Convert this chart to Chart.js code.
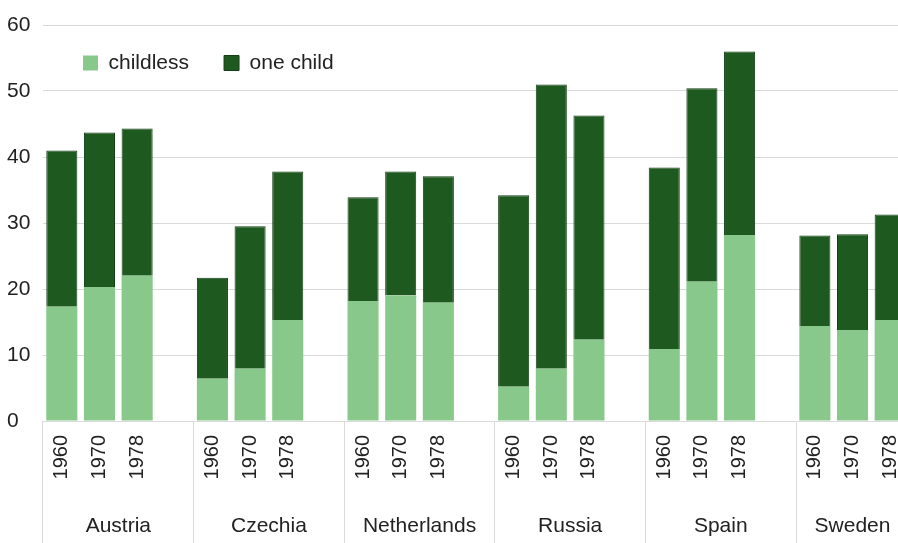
<!DOCTYPE html>
<html>
<head>
<meta charset="utf-8">
<script src="https://cdn.jsdelivr.net/npm/chart.js@4.4.1/dist/chart.umd.min.js"></script>
<style>
  html, body { margin: 0; padding: 0; background: #ffffff; overflow: hidden; }
  #wrap { position: relative; width: 912px; height: 543px; }
</style>
</head>
<body>
<div id="wrap"><canvas id="chart"></canvas></div>
<script>
// Share of women (%) who stayed childless or had one child, by birth cohort
const countries = ['Austria', 'Czechia', 'Netherlands', 'Russia', 'Spain', 'Sweden'];
const years = ['1960', '1970', '1978'];
// values listed country by country, in the order of `years`
const childless = [17.3, 20.3, 22.0,   6.4,  7.9, 15.3,  18.2, 19.0, 17.9,   5.2,  7.9, 12.3,  10.9, 21.1, 28.2,  14.4, 13.8, 15.3];
const oneChild  = [23.7, 23.4, 22.3,  15.3, 21.6, 22.5,  15.7, 18.8, 19.2,  29.0, 43.1, 34.0,  27.5, 29.3, 27.8,  13.7, 14.5, 16.0];
const yTicks = [0, 10, 20, 30, 40, 50, 60];

const LIGHT = '#88c98b';
const DARK = '#1e5a1f';
const DARK_EDGE = '#153f17';
const GRID = '#dadada';
const TEXT = '#222222';
const FONT = "'Liberation Sans', Arial, Helvetica, sans-serif";

// One slot per cohort, with an empty slot between countries
const slotLabels = [];
const childlessSlots = [];
const oneChildSlots = [];
const groupStarts = [];
countries.forEach((c, gi) => {
  groupStarts.push(slotLabels.length);
  years.forEach((y, yi) => {
    slotLabels.push(y);
    childlessSlots.push(childless[gi * years.length + yi]);
    oneChildSlots.push(oneChild[gi * years.length + yi]);
  });
  if (gi < countries.length - 1) {
    slotLabels.push('');
    childlessSlots.push(null);
    oneChildSlots.push(null);
  }
});
const groupCenters = groupStarts.map((s, i) => {
  const end = i < groupStarts.length - 1 ? groupStarts[i + 1] : slotLabels.length;
  return ((s - 0.5) + (end - 0.5)) / 2;
});
const sepColor = (ctx) => groupStarts.includes(ctx.index) ? GRID : 'rgba(0,0,0,0)';

// Lays the legend out as a single row inside the plot, in its upper-left corner
const legendInPlot = {
  id: 'legendInPlot',
  afterInit(chart) {
    if (chart.legend) chart.legend.isHorizontal = () => true;
  },
  afterLayout(chart) {
    const lg = chart.legend;
    if (lg) {
      const area = chart.chartArea;
      lg.left = area.left + 5;
      lg.right = lg.left + lg.width;
      lg.top = area.top - 7.5;
      lg.bottom = lg.top + lg.height;
    }
  }
};

new Chart(document.getElementById('chart'), {
  type: 'bar',
  data: {
    labels: slotLabels,
    datasets: [
      {
        label: 'childless',
        data: childlessSlots,
        backgroundColor: LIGHT,
        borderWidth: 0,
        barPercentage: 0.825,
        categoryPercentage: 1
      },
      {
        label: 'one child',
        data: oneChildSlots,
        backgroundColor: DARK,
        borderColor: DARK_EDGE,
        borderWidth: 1,
        barPercentage: 0.825,
        categoryPercentage: 1
      }
    ]
  },
  options: {
    responsive: true,
    maintainAspectRatio: false,
    animation: false,
    events: [],
    layout: { padding: { left: 7, top: 25, right: 3, bottom: 0 } },
    plugins: {
      tooltip: { enabled: false },
      legend: {
        position: 'chartArea',
        align: 'start',
        labels: {
          boxWidth: 15,
          boxHeight: 15,
          padding: 35,
          color: TEXT,
          font: { family: FONT, size: 21 }
        }
      }
    },
    scales: {
      x: {
        stacked: true,
        position: 'bottom',
        weight: 0,
        offset: true,
        border: { display: false },
        grid: {
          display: true,
          offset: true,
          drawOnChartArea: false,
          drawTicks: true,
          tickLength: 122,
          color: sepColor,
          tickColor: sepColor,
          lineWidth: 1,
          tickWidth: 1
        },
        ticks: {
          autoSkip: false,
          minRotation: 90,
          maxRotation: 90,
          padding: -108,
          color: TEXT,
          font: { family: FONT, size: 20 }
        },
        afterFit(scale) { scale.height = 66; }
      },
      x2: {
        type: 'linear',
        position: 'bottom',
        weight: 1,
        offset: false,
        min: -0.5,
        max: slotLabels.length - 0.5,
        border: { display: false },
        grid: { display: false, offset: false },
        afterBuildTicks(scale) {
          scale.ticks = groupCenters.map(v => ({ value: v }));
        },
        ticks: {
          autoSkip: false,
          maxRotation: 0,
          padding: 19,
          color: TEXT,
          font: { family: FONT, size: 21 },
          callback: (value, index) => countries[index]
        },
        afterFit(scale) { scale.height = 56; }
      },
      y: {
        stacked: true,
        min: yTicks[0],
        max: yTicks[yTicks.length - 1],
        border: { display: false },
        grid: { color: GRID, lineWidth: 1, drawTicks: false },
        afterBuildTicks(scale) {
          scale.ticks = yTicks.map(v => ({ value: v }));
        },
        ticks: {
          crossAlign: 'far',
          padding: 12,
          color: TEXT,
          font: { family: FONT, size: 21 }
        },
        afterFit(scale) { scale.width = 36; }
      }
    }
  },
  plugins: [legendInPlot]
});
</script>
</body>
</html>
